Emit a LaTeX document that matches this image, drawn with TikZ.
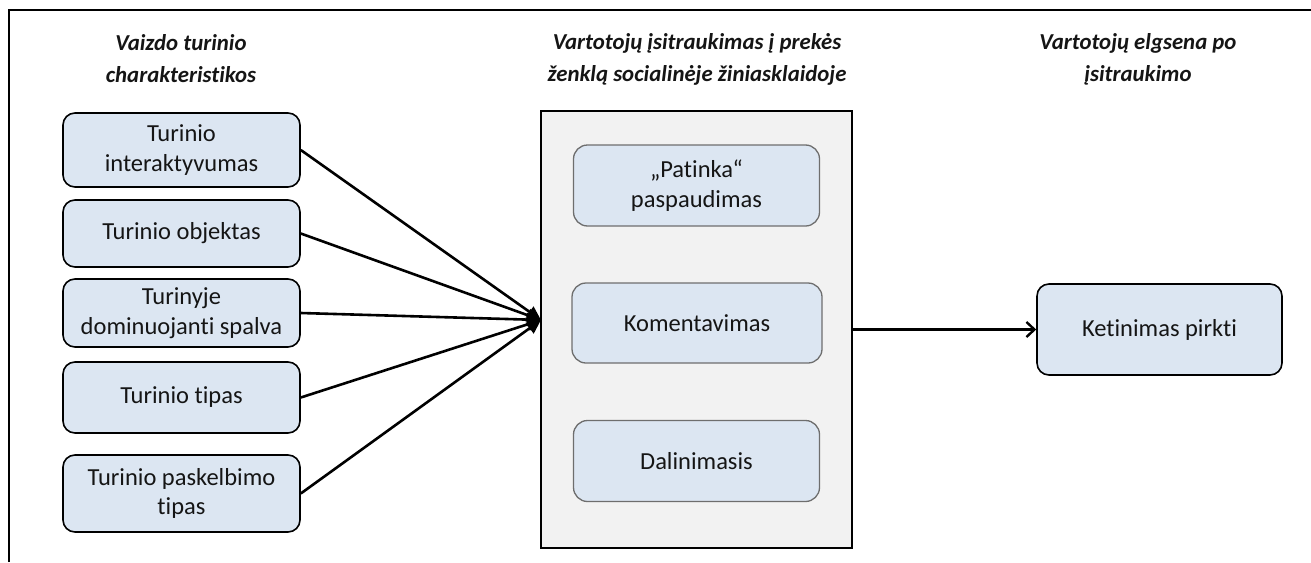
\documentclass[tikz,border=0pt]{standalone}
\usepackage{fontspec}
\setmainfont{Carlito}[Ligatures=NoCommon]
\usetikzlibrary{arrows.meta}
\definecolor{boxblue}{HTML}{DCE6F2}
\definecolor{panelgray}{HTML}{F2F2F2}
\definecolor{innerline}{HTML}{6E6E6E}
\definecolor{txt}{HTML}{151515}
\begin{document}
\begin{tikzpicture}[x=1pt,y=-1pt,
  heading/.style={align=center,font=\fontsize{22.8}{32}\selectfont\bfseries\itshape,text=txt},
  factor/.style={draw=black,line width=1.6pt,fill=boxblue,rounded corners=12pt,
    minimum width=237pt,align=center,inner sep=0pt,
    font=\fontsize{24.5}{29.5}\selectfont,text=txt},
  engage/.style={draw=innerline,line width=1.3pt,fill=boxblue,rounded corners=14pt,
    minimum width=246pt,minimum height=81pt,align=center,inner sep=0pt,
    font=\fontsize{24.5}{29.5}\selectfont,text=txt},
  link/.style={line width=2.6pt,-{Triangle[length=14pt,width=13pt]}},
  outlink/.style={line width=2.4pt,-{Straight Barb[length=8pt,width=15pt,line width=2.4pt]}}
]
\useasboundingbox (0,0) rectangle (1311,562);
% open frame along the top and left edges
\draw[line width=2pt] (9,562) -- (9,10) -- (1311,10);

% column headings
\node[heading] (h1) at (181,59) {Vaizdo turinio\\charakteristikos};
\node[heading] (h2) at (697,59) {Vartotojų įsitraukimas į prekės\\ženklą socialinėje žiniasklaidoje};
\node[heading] (h3) at (1138,59) {Vartotojų elgsena po\\įsitraukimo};

% content characteristics
\node[factor,minimum height=74pt] (f1) at (181.5,150) {Turinio\\interaktyvumas};
\node[factor,minimum height=67pt] (f2) at (181.5,233.5) {Turinio objektas};
\node[factor,minimum height=68pt] (f3) at (181.5,313) {Turinyje\\dominuojanti spalva};
\node[factor,minimum height=71pt] (f4) at (181.5,397.5) {Turinio tipas};
\node[factor,minimum height=77pt] (f5) at (181.5,493.5) {Turinio paskelbimo\\tipas};

% engagement panel
\node[draw=black,line width=1.8pt,fill=panelgray,minimum width=311pt,minimum height=437pt,inner sep=0pt] (panel) at (696.5,329.5) {};
\node[engage] (e1) at (696.5,185.5) {„Patinka“\\paspaudimas};
\node[engage,minimum width=250pt,minimum height=80pt] (e2) at (697,323) {Komentavimas};
\node[engage] (e3) at (696.5,461) {Dalinimasis};

% behaviour after engagement
\node[factor,minimum width=245pt,minimum height=91pt] (b1) at (1159.5,329.5) {Ketinimas pirkti};

% arrows
\coordinate (hub) at (541,320);
\foreach \f in {f1,f2,f3,f4,f5}
  \draw[link] (\f.east) -- (hub);
\draw[outlink] (panel.east |- b1.west) -- (b1.west);
\end{tikzpicture}
\end{document}
